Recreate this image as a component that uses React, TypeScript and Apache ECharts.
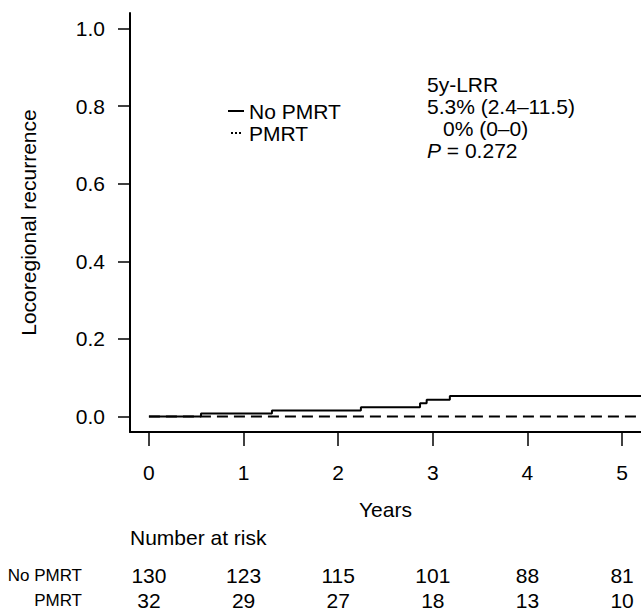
import React, { useEffect, useRef } from "react";
import * as echarts from "echarts";

// ---- data ----
const years = [0, 1, 2, 3, 4, 5];
const yTicks = [0, 0.2, 0.4, 0.6, 0.8, 1.0];
const noPmrtTimes = [0, 0.55, 1.3, 2.24, 2.865, 2.935, 3.18, 5.2];
const noPmrtLRR = [0, 0.0077, 0.0157, 0.024, 0.034, 0.043, 0.053, 0.053];
const pmrtTimes = [0, 5.2];
const pmrtLRR = [0, 0];
const noPmrtAtRisk = [130, 123, 115, 101, 88, 81];
const pmrtAtRisk = [32, 29, 27, 18, 13, 10];
const groups = ["No PMRT", "PMRT"];
const statsTitle = "5y-LRR";
const statsNoPmrt = "5.3% (2.4\u201311.5)";
const statsPmrt = "0% (0\u20130)";
const pValue = "0.272";

const FONT = "'Liberation Sans', Arial, sans-serif";
const FS = 21;
const INK = "#000";

export default function App() {
  const ref = useRef<HTMLDivElement>(null);
  useEffect(() => {
    if (!ref.current) return;
    const chart = echarts.init(ref.current, undefined, { renderer: "svg" });
    const txt = { color: INK, fontSize: FS, fontFamily: FONT };
    const riskAxis = (values: number[], offset: number, label: string) => ({
      type: "value",
      gridIndex: 0,
      min: -0.2,
      max: 5.2,
      position: "bottom",
      offset,
      axisLine: { show: false, onZero: false },
      axisTick: { show: false },
      splitLine: { show: false },
      axisLabel: {
        ...txt,
        customValues: years,
        margin: 0,
        verticalAlign: "middle",
        formatter: (v: number) => {
          const i = years.indexOf(Math.round(v));
          return i >= 0 ? String(values[i]) : "";
        },
      },
      name: label,
      nameLocation: "start",
      nameGap: 48,
      nameTextStyle: { color: INK, fontSize: 17, fontFamily: FONT, align: "right", verticalAlign: "middle" },
    });
    const option: any = {
      animation: false,
      backgroundColor: "#fff",
      grid: { left: 130, right: 0, top: 13, bottom: 178, containLabel: false, outerBoundsMode: "none" },
      legend: {
        orient: "vertical",
        left: 223,
        top: 95,
        itemWidth: 16,
        itemHeight: 2,
        itemGap: 0,
        textStyle: { ...txt, lineHeight: 22 },
        data: [
          { name: groups[0], icon: "rect" },
          { name: groups[1], icon: "path://M0,0h2v2h-2zM4,0h2v2h-2zM8,0h2v2h-2z" },
        ],
        selectedMode: false,
      },
      xAxis: [
        {
          type: "value",
          gridIndex: 0,
          min: -0.2,
          max: 5.2,
          position: "bottom",
          axisLine: { show: true, onZero: false, lineStyle: { color: INK, width: 2 } },
          axisTick: { show: true, customValues: years, length: 14, inside: false, lineStyle: { color: INK, width: 1.5 } },
          axisLabel: { ...txt, customValues: years, margin: 30 },
          splitLine: { show: false },
          name: "Years",
          nameLocation: "middle",
          nameGap: 67,
          nameTextStyle: txt,
        },
        riskAxis(noPmrtAtRisk, 143, groups[0]),
        riskAxis(pmrtAtRisk, 168, groups[1]),
      ],
      yAxis: {
        type: "value",
        min: -0.04,
        max: 1.04,
        axisLine: { show: true, onZero: false, lineStyle: { color: INK, width: 2 } },
        axisTick: { show: true, customValues: yTicks, length: 12, lineStyle: { color: INK, width: 1.5 } },
        axisLabel: { ...txt, customValues: yTicks, margin: 25, formatter: (v: number) => v.toFixed(1) },
        splitLine: { show: false },
        name: "Locoregional recurrence",
        nameLocation: "middle",
        nameGap: 91,
        nameTextStyle: txt,
      },
      series: [
        {
          type: "line",
          name: groups[1],
          data: pmrtTimes.map((t, i) => [t, pmrtLRR[i]]),
          symbol: "none",
          silent: true,
          z: 2,
          lineStyle: { color: INK, width: 2, type: [11, 6] },
          itemStyle: { color: INK },
        },
        {
          type: "line",
          name: groups[0],
          data: noPmrtTimes.map((t, i) => [t, noPmrtLRR[i]]),
          step: "end",
          symbol: "none",
          silent: true,
          z: 3,
          lineStyle: { color: INK, width: 2 },
          itemStyle: { color: INK },
        },
      ],
      graphic: [
        { type: "text", x: 427, y: 84, style: { text: statsTitle, fill: INK, fontSize: FS, fontFamily: FONT, verticalAlign: "middle" } },
        { type: "text", x: 427, y: 106, style: { text: statsNoPmrt, fill: INK, fontSize: FS, fontFamily: FONT, verticalAlign: "middle" } },
        { type: "text", x: 443, y: 128, style: { text: statsPmrt, fill: INK, fontSize: FS, fontFamily: FONT, verticalAlign: "middle" } },
        {
          type: "text",
          x: 427,
          y: 150,
          style: {
            text: "{i|P} = " + pValue,
            fill: INK,
            fontSize: FS,
            fontFamily: FONT,
            verticalAlign: "middle",
            rich: { i: { fontStyle: "italic", fontSize: FS, fontFamily: FONT, fill: INK } },
          },
        },
        { type: "text", x: 130, y: 537, style: { text: "Number at risk", fill: INK, fontSize: FS, fontFamily: FONT, verticalAlign: "middle" } },
      ],
    };
    chart.setOption(option);
    return () => chart.dispose();
  }, []);
  return (
    <div
      ref={ref}
      style={{ position: "fixed", left: 0, top: 0, width: 641, height: 610, background: "#fff" }}
    />
  );
}
